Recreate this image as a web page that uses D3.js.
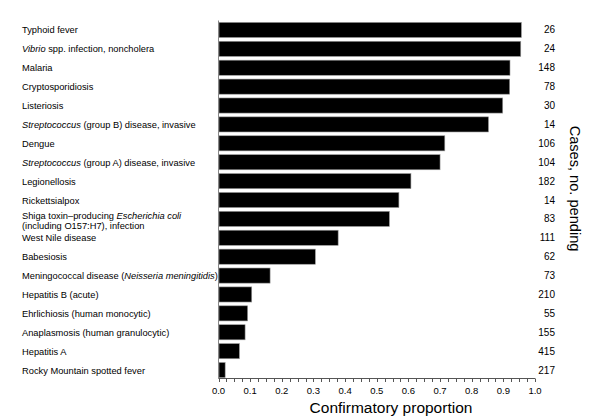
<!DOCTYPE html>
<html><head><meta charset="utf-8">
<script src="https://cdn.jsdelivr.net/npm/d3@7"></script>
<style>body{margin:0;background:#fff}svg{display:block}text{font-family:"Liberation Sans",Arial,sans-serif;fill:#000}</style>
</head><body>
<svg id="c" width="600" height="418"></svg>
<script>
const categories = [
 [{t:"Typhoid fever"}],
 [{t:"Vibrio",i:1},{t:" spp. infection, noncholera"}],
 [{t:"Malaria"}],
 [{t:"Cryptosporidiosis"}],
 [{t:"Listeriosis"}],
 [{t:"Streptococcus",i:1},{t:" (group B) disease, invasive"}],
 [{t:"Dengue"}],
 [{t:"Streptococcus",i:1},{t:" (group A) disease, invasive"}],
 [{t:"Legionellosis"}],
 [{t:"Rickettsialpox"}],
 [{t:"Shiga toxin\u2013producing "},{t:"Escherichia coli",i:1},{br:1},{t:"(including O157:H7), infection"}],
 [{t:"West Nile disease"}],
 [{t:"Babesiosis"}],
 [{t:"Meningococcal disease ("},{t:"Neisseria meningitidis",i:1},{t:")"}],
 [{t:"Hepatitis B (acute)"}],
 [{t:"Ehrlichiosis (human monocytic)"}],
 [{t:"Anaplasmosis (human granulocytic)"}],
 [{t:"Hepatitis A"}],
 [{t:"Rocky Mountain spotted fever"}]
];
const proportions = [0.957,0.955,0.921,0.920,0.898,0.853,0.715,0.700,0.608,0.570,0.540,0.378,0.306,0.163,0.105,0.092,0.084,0.066,0.021];
const casesPending = [26,24,148,78,30,14,106,104,182,14,83,111,62,73,210,55,155,415,217];
const majorTicks = [0,0.1,0.2,0.3,0.4,0.5,0.6,0.7,0.8,0.9,1.0];

const svg = d3.select("#c");
const idx = d3.range(categories.length);
const x = d3.scaleLinear().domain([0,1]).range([218.5,535]);
const y = d3.scaleBand().domain(idx).range([20.5,379.5]).paddingInner(0.2).paddingOuter(0.1);

// bars
svg.append("g").selectAll("rect").data(idx).join("rect")
  .attr("x", x(0)+0.5).attr("y", d=>y(d))
  .attr("width", d=>x(proportions[d])-x(0)-0.5).attr("height", y.bandwidth())
  .attr("fill","#000").attr("stroke","#999").attr("stroke-width",0.6);

// y axis line
svg.append("line").attr("x1",x(0)).attr("x2",x(0)).attr("y1",y.range()[0]).attr("y2",378.5)
  .attr("stroke","#888").attr("stroke-width",1);

// x axis
const minor = d3.range(0,1.0001,0.025);
const gx = svg.append("g").attr("transform","translate(0,378.5)");
gx.append("line").attr("x1",x(0)).attr("x2",x(1)).attr("stroke","#555").attr("stroke-width",1);
gx.selectAll("line.m").data(minor).join("line").attr("class","m")
  .attr("x1",d=>Math.round(x(d))+0.5).attr("x2",d=>Math.round(x(d))+0.5)
  .attr("y1",0).attr("y2",3.5).attr("stroke","#555");
gx.selectAll("text").data(majorTicks).join("text")
  .attr("x",d=>x(d)).attr("y",15).attr("text-anchor","middle")
  .style("font-size","9.5px").text(d=>d3.format(".1f")(d));
svg.append("text").attr("x",391).attr("y",412.5).attr("text-anchor","middle")
  .style("font-size","15.5px").text("Confirmatory proportion");

// labels
const lab = svg.append("g");
idx.forEach(d=>{
  const parts = categories[d];
  const two = parts.some(p=>p.br);
  const cy = y(d)+y.bandwidth()/2;
  const t = lab.append("text").attr("x",22).attr("y", two? cy+0.3 : cy+3.5).style("font-size","9.3px");
  let newLine=false;
  parts.forEach(p=>{
    if(p.br){newLine=true;return;}
    const ts = t.append("tspan").text(p.t);
    if(p.i) ts.style("font-style","italic");
    if(newLine){ts.attr("x",22).attr("dy",9.5);newLine=false;}
  });
});

// right numbers
svg.append("g").selectAll("text").data(idx).join("text")
  .attr("x",555).attr("y",d=>y(d)+y.bandwidth()/2+3.5).attr("text-anchor","end")
  .style("font-size","10px").text(d=>casesPending[d]);

svg.append("text").attr("transform","translate(570,188.5) rotate(90)").attr("text-anchor","middle")
  .style("font-size","14.6px").text("Cases, no. pending");
</script>
</body></html>
